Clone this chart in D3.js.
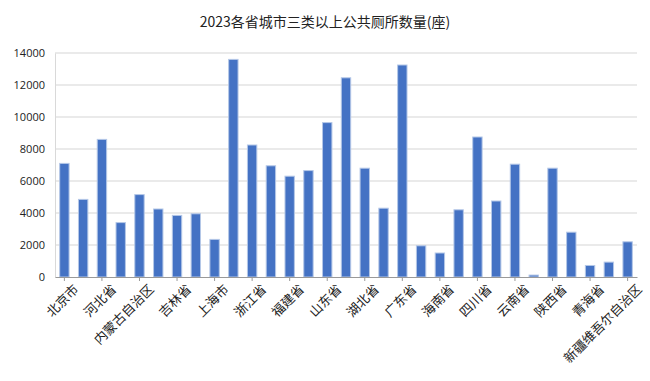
<!DOCTYPE html>
<html>
<head>
<meta charset="utf-8">
<script src="https://cdn.jsdelivr.net/npm/d3@7"></script>
<style>
body { margin: 0; background: #fff; }
text { font-family: "Noto Sans CJK SC", "Noto Sans", sans-serif; fill: #222; }
</style>
</head>
<body>
<script>
// provinces in the order they appear
var provinces = ["北京市", "天津市", "河北省", "山西省", "内蒙古自治区", "辽宁省", "吉林省", "黑龙江省",
    "上海市", "江苏省", "浙江省", "安徽省", "福建省", "江西省", "山东省", "河南省", "湖北省", "湖南省",
    "广东省", "广西壮族自治区", "海南省", "重庆市", "四川省", "贵州省", "云南省", "西藏自治区",
    "陕西省", "甘肃省", "青海省", "宁夏回族自治区", "新疆维吾尔自治区"];

// toilets per province
var toilets = [7100, 4850, 8600, 3400, 5150, 4250, 3850, 3950,
    2350, 13600, 8250, 6950, 6300, 6650, 9650, 12450, 6800, 4300,
    13250, 1950, 1500, 4200, 8750, 4750, 7050, 120,
    6800, 2800, 720, 930, 2200];

var yTicks = [0, 2000, 4000, 6000, 8000, 10000, 12000, 14000];

var width = 650, height = 381,
    margin = {top: 53, right: 13, bottom: 104, left: 55};

var svg = d3.select("body").append("svg")
    .attr("width", width)
    .attr("height", height);

var x = d3.scaleBand()
    .domain(provinces)
    .range([margin.left, width - margin.right])
    .paddingInner(0.5)
    .paddingOuter(0.25);

var y = d3.scaleLinear()
    .domain([0, 14000])
    .range([height - margin.bottom, margin.top]);

// title
svg.append("text")
    .attr("x", 325)
    .attr("y", 27)
    .attr("text-anchor", "middle")
    .style("font-size", "14px")
    .text("2023各省城市三类以上公共厕所数量(座)");

// gridlines
svg.append("g").selectAll("line")
    .data(yTicks.slice(1))
    .enter().append("line")
    .attr("x1", margin.left)
    .attr("x2", width - margin.right)
    .attr("y1", function(d){ return y(d); })
    .attr("y2", function(d){ return y(d); })
    .attr("stroke", "#e3e3e3")
    .attr("stroke-width", 1.3);

// y axis
var yAxis = svg.append("g")
    .attr("transform", "translate(" + margin.left + ",0)")
    .call(d3.axisLeft(y).tickValues(yTicks).tickSize(0).tickPadding(10).tickFormat(d3.format("d")));
yAxis.select(".domain").attr("stroke", "#d9d9d9");
yAxis.selectAll("text").style("font-size", "11px").style("font-family", "\"Open Sans\", sans-serif");

// bars
svg.append("g").selectAll("rect")
    .data(toilets)
    .enter().append("rect")
    .attr("x", function(d, i){ return x(provinces[i]); })
    .attr("y", function(d){ return y(d); })
    .attr("width", x.bandwidth())
    .attr("height", function(d){ return y(0) - y(d); })
    .attr("fill", "#4472c4")
    .attr("stroke", "#b4c7e7")
    .attr("stroke-width", 1);

// x axis, every other label
var xAxis = svg.append("g")
    .attr("transform", "translate(0," + y(0) + ")")
    .call(d3.axisBottom(x)
        .tickValues(provinces.filter(function(d, i){ return i % 2 == 0; }))
        .tickSize(4).tickSizeOuter(0).tickPadding(4));
xAxis.select(".domain").attr("stroke", "#999");
xAxis.selectAll(".tick line").attr("stroke", "#999");
xAxis.selectAll("text")
    .style("font-size", "13px")
    .attr("text-anchor", "end")
    .attr("dy", "0.6em")
    .attr("transform", "translate(4,2) rotate(-45)");
</script>
</body>
</html>
